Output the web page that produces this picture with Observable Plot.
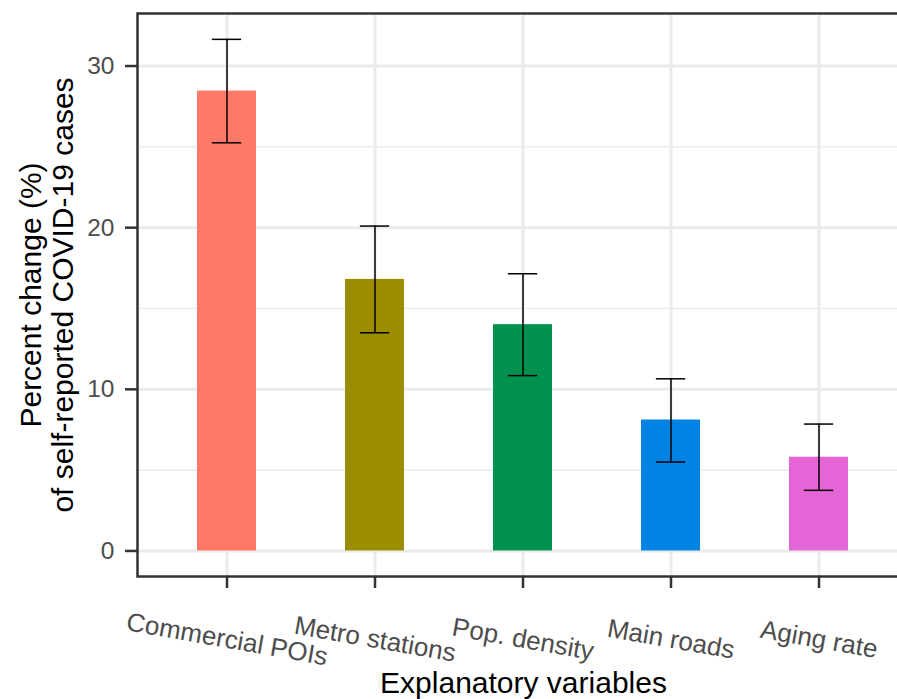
<!DOCTYPE html>
<html>
<head>
<meta charset="utf-8">
<script src="https://cdn.jsdelivr.net/npm/d3@7"></script>
<script src="https://cdn.jsdelivr.net/npm/@observablehq/plot@0.6"></script>
<style>
  html, body { margin: 0; padding: 0; background: white; overflow: hidden; }
  #chart { width: 897px; height: 699px; overflow: hidden; }
  #chart svg { max-width: none; }
</style>
</head>
<body>
<div id="chart"></div>
<script>
const categories = ["Commercial POIs", "Metro stations", "Pop. density", "Main roads", "Aging rate"];
const values = [28.45, 16.8, 14.0, 8.1, 5.8];
const lower = [25.25, 13.5, 10.85, 5.5, 3.75];
const upper = [31.65, 20.1, 17.15, 10.65, 7.85];
const colors = ["#FF7868", "#9C8D00", "#00914F", "#0083E3", "#E466D6"];
const majorTicks = [0, 10, 20, 30];
const minorTicks = [5, 15, 25];
const yTitle = "Percent change (%)\nof self-reported COVID-19 cases";
const xTitle = "Explanatory variables";

const data = categories.map((c, i) => ({cat: c, value: values[i], lo: lower[i], hi: upper[i], color: colors[i]}));
const font = "'Liberation Sans', Arial, sans-serif";

const chart = Plot.plot({
  width: 910,
  height: 699,
  marginLeft: 137,
  marginRight: 1,
  marginTop: 13,
  marginBottom: 123,
  style: {fontFamily: font, background: "white"},
  x: {type: "band", domain: categories, paddingInner: 0.6, paddingOuter: 0.4, axis: null},
  y: {domain: [-1.58, 33.25], axis: null},
  marks: [
    Plot.gridY(minorTicks, {stroke: "#EBEBEB", strokeOpacity: 1, strokeWidth: 1.5}),
    Plot.gridY(majorTicks, {stroke: "#EBEBEB", strokeOpacity: 1, strokeWidth: 3}),
    Plot.ruleX(categories, {x: d => d, stroke: "#EBEBEB", strokeWidth: 3}),
    Plot.barY(data, {x: "cat", y: "value", fill: "color", inset: 0}),
    Plot.ruleX(data, {x: "cat", y1: "lo", y2: "hi", stroke: "black", strokeWidth: 1.5}),
    Plot.tickY(data, {x: "cat", y: "lo", stroke: "black", strokeWidth: 1.5, insetLeft: 14.85, insetRight: 14.85}),
    Plot.tickY(data, {x: "cat", y: "hi", stroke: "black", strokeWidth: 1.5, insetLeft: 14.85, insetRight: 14.85}),
    Plot.frame({stroke: "#333333", strokeWidth: 2.5}),
    Plot.axisY({ticks: majorTicks, tickSize: 12, tickPadding: 11, fontSize: 24.5, stroke: "#333333", strokeWidth: 2.5, fill: "#4D4D4D", label: null}),
    Plot.axisX({tickSize: 12, stroke: "#333333", strokeWidth: 2.5, tickFormat: () => "", label: null}),
    Plot.text(categories, {x: d => d, text: d => d, frameAnchor: "bottom", dy: 63, rotate: 10, textAnchor: "middle", lineAnchor: "middle", fontSize: 26, fill: "#4D4D4D"}),
    Plot.text([xTitle], {text: d => d, frameAnchor: "bottom", dy: 107, textAnchor: "middle", lineAnchor: "middle", fontSize: 30, fill: "black"}),
    Plot.text([yTitle], {text: d => d, frameAnchor: "left", dx: -91, rotate: -90, textAnchor: "middle", lineAnchor: "middle", lineHeight: 1.07, fontSize: 30, fill: "black"})
  ]
});
document.getElementById("chart").appendChild(chart);
</script>
</body>
</html>
